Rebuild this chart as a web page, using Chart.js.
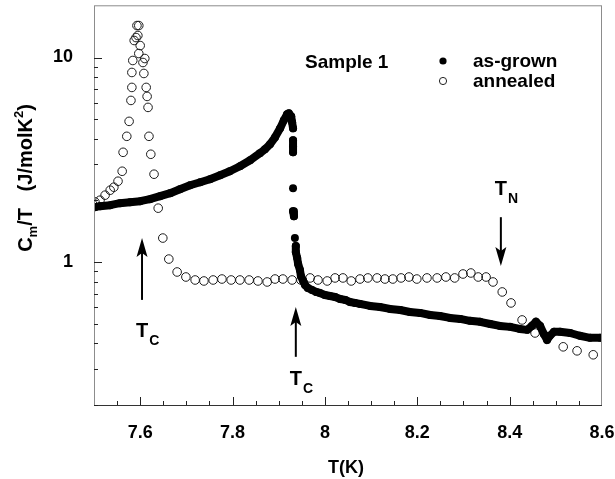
<!DOCTYPE html>
<html>
<head>
<meta charset="utf-8">
<script src="https://cdn.jsdelivr.net/npm/chart.js@4.4.1/dist/chart.umd.min.js"></script>
<style>
  html, body { margin: 0; padding: 0; background: #fff; }
</style>
</head>
<body>
<canvas id="heatChart" width="615" height="479"></canvas>
<script>
// C_m/T vs T, as-grown sample
const grownT = [7.502, 7.513, 7.535, 7.556, 7.578, 7.600, 7.621, 7.643, 7.665, 7.686, 7.708, 7.730, 7.751, 7.773,
  7.794, 7.816, 7.838, 7.859, 7.870, 7.881, 7.892, 7.903, 7.911, 7.918, 7.922, 7.927, 7.929, 7.931, 7.931, 7.931,
  7.931, 7.931, 7.931, 7.933, 7.935, 7.937, 7.937, 7.940, 7.942, 7.946, 7.948, 7.953, 7.957, 7.963, 7.972, 7.981,
  7.989, 8.000, 8.011, 8.022, 8.033, 8.044, 8.054, 8.065, 8.076, 8.098, 8.119, 8.141, 8.163, 8.184, 8.206, 8.228,
  8.249, 8.271, 8.293, 8.314, 8.336, 8.358, 8.379, 8.401, 8.422, 8.438, 8.448, 8.457, 8.466, 8.474, 8.481, 8.487,
  8.496, 8.509, 8.531, 8.552, 8.574, 8.596];
const grownC = [1.855, 1.876, 1.897, 1.940, 1.962, 1.984, 2.029, 2.099, 2.171, 2.270, 2.374, 2.456, 2.540, 2.657,
  2.779, 2.940, 3.145, 3.402, 3.558, 3.763, 4.072, 4.505, 4.928, 5.272, 5.332, 5.156, 4.820, 4.505, 3.936, 3.680,
  3.440, 2.296, 1.773, 1.676, 1.310, 1.197, 1.119, 1.046, 0.978, 0.914, 0.855, 0.808, 0.772, 0.747, 0.730, 0.714,
  0.706, 0.690, 0.682, 0.675, 0.660, 0.653, 0.638, 0.631, 0.624, 0.610, 0.603, 0.590, 0.583, 0.570, 0.564, 0.551,
  0.545, 0.533, 0.527, 0.516, 0.510, 0.498, 0.487, 0.482, 0.471, 0.466, 0.487, 0.510, 0.487, 0.445, 0.416, 0.436,
  0.456, 0.456, 0.450, 0.436, 0.426, 0.426];

// annealed sample
const annealT = [7.502, 7.513, 7.524, 7.535, 7.543, 7.552, 7.561, 7.563, 7.571, 7.576, 7.580, 7.582, 7.582, 7.584,
  7.587, 7.591, 7.593, 7.597, 7.595, 7.600, 7.597, 7.606, 7.610, 7.608, 7.613, 7.615, 7.617, 7.619, 7.623, 7.630,
  7.639, 7.649, 7.662, 7.680, 7.699, 7.719, 7.738, 7.758, 7.777, 7.797, 7.816, 7.836, 7.855, 7.875, 7.892, 7.909,
  7.929, 7.948, 7.968, 7.985, 8.005, 8.022, 8.039, 8.057, 8.076, 8.093, 8.113, 8.130, 8.147, 8.165, 8.182, 8.199,
  8.221, 8.243, 8.262, 8.281, 8.299, 8.316, 8.332, 8.349, 8.364, 8.384, 8.403, 8.427, 8.455, 8.516, 8.546, 8.581];
const annealC = [1.968, 2.006, 2.123, 2.245, 2.322, 2.484, 2.779, 3.440, 4.118, 4.873, 6.168, 7.141, 8.450, 9.670,
  12.11, 12.52, 14.33, 14.33, 12.81, 11.44, 10.46, 9.454, 9.888, 8.356, 7.141, 6.453, 5.703, 4.118, 3.365, 2.688,
  1.834, 1.310, 1.034, 0.894, 0.845, 0.817, 0.808, 0.817, 0.826, 0.817, 0.817, 0.817, 0.808, 0.799, 0.826, 0.826,
  0.817, 0.817, 0.836, 0.817, 0.808, 0.836, 0.836, 0.808, 0.826, 0.836, 0.836, 0.826, 0.826, 0.836, 0.845, 0.826,
  0.836, 0.836, 0.845, 0.836, 0.874, 0.884, 0.845, 0.845, 0.799, 0.714, 0.631, 0.521, 0.450, 0.385, 0.368, 0.352];

const xTicks = [7.6, 7.8, 8, 8.2, 8.4, 8.6];
const yTicks = [1, 10];

// transition arrows: T position, tail and tip in C_m/T units
const arrows = [
  { t: 7.604, from: 0.653, to: 1.31, label: ['T', 'C'], dy: 30 },
  { t: 7.937, from: 0.344, to: 0.603, label: ['T', 'C'], dy: 21 },
  { t: 8.381, from: 1.657, to: 0.956, label: ['T', 'N'], dy: -29 }
];

const FONT = '"Liberation Sans", Arial, Helvetica, sans-serif';
const bold = size => `bold ${size}px ${FONT}`;

function pts(xs, ys) {
  return xs.map((x, i) => ({ x: x, y: ys[i] }));
}

function drawArrow(ctx, x, y0, y1) {
  const dir = Math.sign(y1 - y0);
  ctx.lineWidth = 2;
  ctx.beginPath();
  ctx.moveTo(x, y0);
  ctx.lineTo(x, y1 - dir * 12);
  ctx.stroke();
  ctx.beginPath();
  ctx.moveTo(x, y1);
  ctx.lineTo(x - 5.5, y1 - dir * 19);
  ctx.lineTo(x, y1 - dir * 15);
  ctx.lineTo(x + 5.5, y1 - dir * 19);
  ctx.closePath();
  ctx.fill();
}

function drawSubLabel(ctx, main, sub, cx, cy) {
  ctx.textAlign = 'left';
  ctx.textBaseline = 'alphabetic';
  ctx.font = bold(20);
  const w = ctx.measureText(main).width;
  ctx.fillText(main, cx - w / 2, cy + 7);
  ctx.font = bold(14);
  ctx.fillText(sub, cx + w / 2 + 1, cy + 15);
}

const decor = {
  id: 'decor',
  afterDraw(chart) {
    const { ctx, chartArea: a, scales: { x, y } } = chart;
    ctx.save();

    // frame
    ctx.lineWidth = 1;
    ctx.strokeStyle = '#8c8c8c';
    ctx.strokeRect(a.left + 0.5, a.top + 0.5, a.right - a.left - 1, a.bottom - a.top);
    ctx.strokeStyle = '#333';
    ctx.beginPath();
    ctx.moveTo(a.left, a.bottom + 0.5);
    ctx.lineTo(a.right, a.bottom + 0.5);
    ctx.stroke();

    // inward tick marks on the bottom axis
    ctx.strokeStyle = '#222';
    for (let i = 1; i < 22; i++) {
      const v = 7.5 + i * 0.05;
      const major = xTicks.some(t => Math.abs(t - v) < 1e-6);
      const px = Math.round(x.getPixelForValue(v)) + 0.5;
      ctx.beginPath();
      ctx.moveTo(px, a.bottom);
      ctx.lineTo(px, a.bottom - (major ? 8 : 4));
      ctx.stroke();
    }
    // inward tick marks on the left axis
    [0.1, 1, 10].forEach(dec => {
      for (let k = 1; k <= 9; k++) {
        const v = k * dec;
        if (v < 0.2 || v > 18) continue;
        const py = Math.round(y.getPixelForValue(v)) + 0.5;
        ctx.beginPath();
        ctx.moveTo(a.left, py);
        ctx.lineTo(a.left + (k === 1 ? 8 : 4), py);
        ctx.stroke();
      }
    });

    // axis titles
    ctx.fillStyle = '#000';
    ctx.textAlign = 'center';
    ctx.textBaseline = 'alphabetic';
    ctx.font = bold(18);
    ctx.fillText('T(K)', (a.left + a.right) / 2 - 2, 473);

    ctx.save();
    ctx.translate(32, 178);
    ctx.rotate(-Math.PI / 2);
    const parts = [
      ['C', 20, 0], ['m', 13, 5], ['/T', 20, 0], ['   ', 20, 0],
      ['(J/molK', 20, 0], ['2', 13, -9], [')', 20, 0]
    ];
    let total = 0;
    parts.forEach(p => { ctx.font = bold(p[1]); total += ctx.measureText(p[0]).width; });
    let cur = -total / 2;
    ctx.textAlign = 'left';
    parts.forEach(p => {
      ctx.font = bold(p[1]);
      ctx.fillText(p[0], cur, p[2]);
      cur += ctx.measureText(p[0]).width;
    });
    ctx.restore();

    // sample name and legend
    ctx.textAlign = 'left';
    ctx.font = bold(19);
    ctx.fillText('Sample 1', 305, 68);
    ctx.fillText('as-grown', 473, 67);
    ctx.fillText('annealed', 473, 87);
    ctx.beginPath();
    ctx.arc(443, 61, 3.6, 0, Math.PI * 2);
    ctx.fill();
    ctx.beginPath();
    ctx.lineWidth = 1;
    ctx.arc(443, 81, 3.6, 0, Math.PI * 2);
    ctx.stroke();

    // transition arrows
    ctx.strokeStyle = '#000';
    arrows.forEach(ar => {
      const px = x.getPixelForValue(ar.t);
      const y0 = y.getPixelForValue(ar.from);
      const y1 = y.getPixelForValue(ar.to);
      drawArrow(ctx, px, y0, y1);
      drawSubLabel(ctx, ar.label[0], ar.label[1], px, y0 + ar.dy);
    });

    ctx.restore();
  }
};

new Chart(document.getElementById('heatChart'), {
  type: 'scatter',
  data: {
    datasets: [
      {
        label: 'as-grown',
        data: pts(grownT, grownC),
        showLine: true,
        borderColor: '#000',
        borderWidth: 8,
        borderJoinStyle: 'round',
        borderCapStyle: 'round',
        tension: 0,
        pointRadius: 4,
        pointBackgroundColor: '#000',
        pointBorderWidth: 0,
        segment: {
          // the jump at T_C is a column of separate points, not a line
          borderColor: c => {
            const dx = Math.abs(c.p1.x - c.p0.x);
            const dy = Math.abs(c.p1.y - c.p0.y);
            return (dy > 7 && dy > 3 * dx) ? 'rgba(0,0,0,0)' : '#000';
          }
        }
      },
      {
        label: 'annealed',
        data: pts(annealT, annealC),
        showLine: false,
        pointRadius: 4.3,
        pointBackgroundColor: 'rgba(0,0,0,0)',
        pointBorderColor: '#1a1a1a',
        pointBorderWidth: 1
      }
    ]
  },
  options: {
    responsive: false,
    animation: false,
    layout: { padding: { top: 4, right: 13, left: 0, bottom: 0 } },
    plugins: { legend: { display: false }, tooltip: { enabled: false } },
    scales: {
      x: {
        type: 'linear',
        min: 7.5,
        max: 8.6,
        grid: { display: false },
        border: { display: false },
        afterBuildTicks: s => { s.ticks = xTicks.map(v => ({ value: v })); },
        afterFit: s => { s.height = 74; s.paddingLeft = 0; s.paddingRight = 0; },
        ticks: {
          autoSkip: false,
          maxRotation: 0,
          padding: 9,
          color: '#000',
          font: { family: FONT, size: 18, weight: 'bold' },
          callback: v => String(v)
        }
      },
      y: {
        type: 'logarithmic',
        min: 0.2,
        max: 18,
        grid: { display: false },
        border: { display: false },
        afterBuildTicks: s => { s.ticks = yTicks.map(v => ({ value: v })); },
        afterFit: s => { s.width = 94; s.paddingTop = 0; s.paddingBottom = 0; },
        ticks: {
          autoSkip: false,
          padding: 13,
          color: '#000',
          font: { family: FONT, size: 18, weight: 'bold' },
          callback: v => String(v)
        }
      }
    }
  },
  plugins: [decor]
});
</script>
</body>
</html>
